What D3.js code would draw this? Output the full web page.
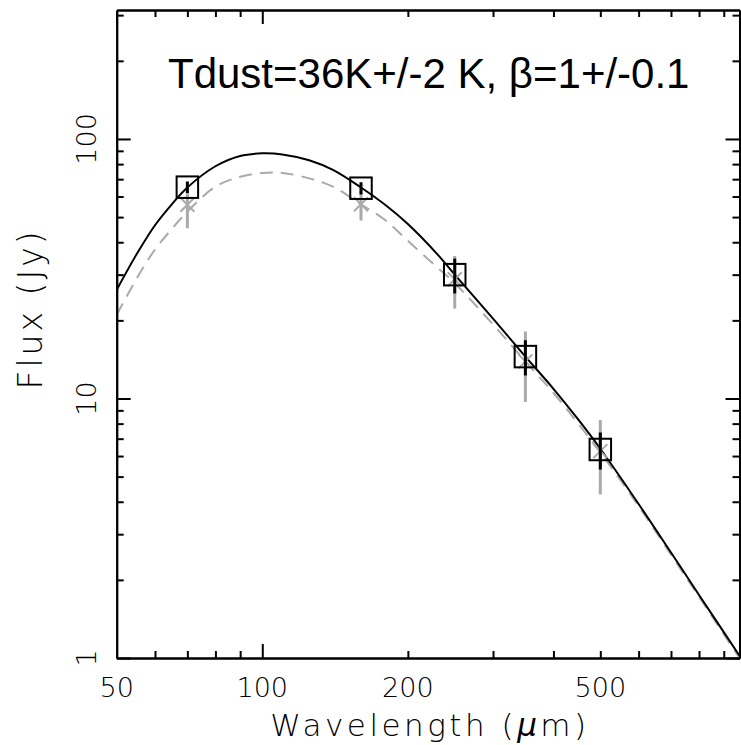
<!DOCTYPE html>
<html>
<head>
<meta charset="utf-8">
<script src="https://cdn.jsdelivr.net/npm/d3@7"></script>
<style>
  html, body { margin: 0; padding: 0; background: #fff; }
  svg { display: block; }
  .hershey { font-family: "DejaVu Sans", sans-serif; font-weight: 200; fill: #000; }
</style>
</head>
<body>
<svg id="chart" width="741" height="745"></svg>
<script>
// Photometry (Jy) at the Herschel bands
const bandWavelength = [70, 160, 250, 350, 500];
const fluxMeasured   = [65.2, 64.6, 30.0, 14.5, 6.36];
const errMeasured    = [3.3, 3.5, 4.6, 2.25, 1.03];
const fluxAlt        = [55.8, 56.0, 28.8, 13.9, 6.27];
const errAlt         = [10.5, 7.5, 6.6, 4.2, 2.0];

// Greybody fits, sampled along wavelength
const fitWavelength = [50, 55, 60, 65, 70, 80, 90, 100, 110, 125, 140, 160, 180, 200, 230, 250, 300, 350, 400, 450, 500, 600, 700, 800, 970];
const fitFlux       = [26.2, 36.0, 46.5, 56.0, 65.0, 78.5, 86.0, 88.0, 87.2, 82.8, 76.0, 65.0, 55.5, 47.0, 36.0, 30.0, 20.3, 14.5, 10.9, 8.3, 6.4, 3.92, 2.55, 1.75, 1.02];
const fitFluxAlt    = [21.0, 29.0, 37.5, 45.0, 52.5, 65.5, 71.5, 74.0, 74.0, 70.5, 65.5, 56.0, 48.5, 40.5, 32.0, 27.8, 19.3, 13.9, 10.5, 8.0, 6.2, 3.85, 2.5, 1.72, 1.0];

// Axis ticks and labels
const xMinorTicks = [60, 70, 80, 90, 200, 300, 400, 500, 600, 700, 800, 900];
const xMajorTicks = [100];
const xTickLabels = [50, 100, 200, 500];
const yMinorTicks = [2, 3, 4, 5, 6, 7, 8, 9, 20, 30, 40, 50, 60, 70, 80, 90, 200, 300];
const yMajorTicks = [1, 10, 100];
const yTickLabels = [1, 10, 100];

const titleText = "Tdust=36K+/-2 K, \u03B2=1+/-0.1";

const svg = d3.select("#chart");
const plotLeft = 116.7, plotRight = 739.5, plotTop = 10, plotBottom = 658;

const x = d3.scaleLog().domain([50, 970]).range([plotLeft, plotRight]);
const y = d3.scaleLog().domain([1, 314]).range([plotBottom, plotTop]);

svg.append("defs").append("clipPath").attr("id", "plotArea")
  .append("rect").attr("x", plotLeft).attr("y", plotTop)
  .attr("width", plotRight - plotLeft).attr("height", plotBottom - plotTop);

const plot = svg.append("g").attr("clip-path", "url(#plotArea)");

const line = (vals) => d3.line()
  .x((d, i) => x(fitWavelength[i]))
  .y(d => y(d))
  .curve(d3.curveCatmullRom.alpha(0.5))(vals);

// dashed alternative fit
plot.append("path")
  .attr("d", line(fitFluxAlt))
  .attr("fill", "none")
  .attr("stroke", "#aaaaaa")
  .attr("stroke-width", 2)
  .attr("stroke-dasharray", "13,8");

// solid best fit
plot.append("path")
  .attr("d", line(fitFlux))
  .attr("fill", "none")
  .attr("stroke", "#000")
  .attr("stroke-width", 2);

// grey error bars and crosses
plot.selectAll(".altErr").data(bandWavelength).join("line")
  .attr("x1", d => x(d)).attr("x2", d => x(d))
  .attr("y1", (d, i) => y(fluxAlt[i] + errAlt[i]))
  .attr("y2", (d, i) => y(fluxAlt[i] - errAlt[i]))
  .attr("stroke", "#aaaaaa").attr("stroke-width", 3);

const cross = 7;
bandWavelength.forEach((w, i) => {
  const cx = x(w), cy = y(fluxAlt[i]);
  plot.append("path")
    .attr("d", `M${cx - cross},${cy - cross}L${cx + cross},${cy + cross}M${cx - cross},${cy + cross}L${cx + cross},${cy - cross}`)
    .attr("stroke", "#aaaaaa").attr("stroke-width", 2).attr("fill", "none");
});

// black error bars and squares
plot.selectAll(".measErr").data(bandWavelength).join("line")
  .attr("x1", d => x(d)).attr("x2", d => x(d))
  .attr("y1", (d, i) => y(fluxMeasured[i] + errMeasured[i]))
  .attr("y2", (d, i) => y(fluxMeasured[i] - errMeasured[i]))
  .attr("stroke", "#000").attr("stroke-width", 3);

const sq = 21.5;
plot.selectAll(".sq").data(bandWavelength).join("rect")
  .attr("x", d => x(d) - sq / 2)
  .attr("y", (d, i) => y(fluxMeasured[i]) - sq / 2)
  .attr("width", sq).attr("height", sq)
  .attr("fill", "none").attr("stroke", "#000").attr("stroke-width", 2);

// frame ticks
function styleAxis(g) {
  g.selectAll("path.domain").attr("stroke", "#000").attr("stroke-width", 2);
  g.selectAll(".tick line").attr("stroke", "#000").attr("stroke-width", 2);
  g.selectAll(".tick text").remove();
}
const frame = svg.append("g");
[[d3.axisBottom(x), xMinorTicks, 7, `translate(0,${plotBottom})`],
 [d3.axisBottom(x), xMajorTicks, 14, `translate(0,${plotBottom})`],
 [d3.axisTop(x), xMinorTicks, 7, `translate(0,${plotTop})`],
 [d3.axisTop(x), xMajorTicks, 14, `translate(0,${plotTop})`],
 [d3.axisLeft(y), yMinorTicks, 7, `translate(${plotLeft},0)`],
 [d3.axisLeft(y), yMajorTicks, 14, `translate(${plotLeft},0)`],
 [d3.axisRight(y), yMinorTicks, 7, `translate(${plotRight},0)`],
 [d3.axisRight(y), yMajorTicks, 14, `translate(${plotRight},0)`]
].forEach(([ax, vals, len, tr]) => {
  frame.append("g").attr("transform", tr)
    .call(ax.tickValues(vals).tickSizeInner(-len).tickSizeOuter(0).tickFormat(""))
    .call(styleAxis);
});

// tick labels
svg.append("g").selectAll("text").data(xTickLabels).join("text")
  .attr("class", "hershey")
  .attr("x", d => x(d)).attr("y", 697)
  .attr("text-anchor", "middle")
  .attr("font-size", 27)
  .text(d => d);

svg.append("g").selectAll("text").data(yTickLabels).join("text")
  .attr("class", "hershey")
  .attr("transform", d => `translate(96,${y(d)}) rotate(-90)`)
  .attr("text-anchor", "middle")
  .attr("font-size", 27)
  .text(d => d);

// axis titles
const xt = svg.append("text").attr("class", "hershey")
  .attr("x", 430).attr("y", 736)
  .attr("text-anchor", "middle").attr("font-size", 31)
  .attr("letter-spacing", 3.5);
xt.append("tspan").text("Wavelength (");
xt.append("tspan").attr("font-style", "italic").text("\u03BC");
xt.append("tspan").text("m)");

svg.append("text").attr("class", "hershey")
  .attr("transform", "translate(42,309) rotate(-90)")
  .attr("text-anchor", "middle").attr("font-size", 33)
  .attr("letter-spacing", 3)
  .text("Flux (Jy)");

// title
svg.append("text")
  .attr("x", 168).attr("y", 88)
  .attr("font-family", "'Liberation Sans', Arial, sans-serif")
  .attr("font-size", 42)
  .attr("fill", "#000")
  .text(titleText);
</script>
</body>
</html>
